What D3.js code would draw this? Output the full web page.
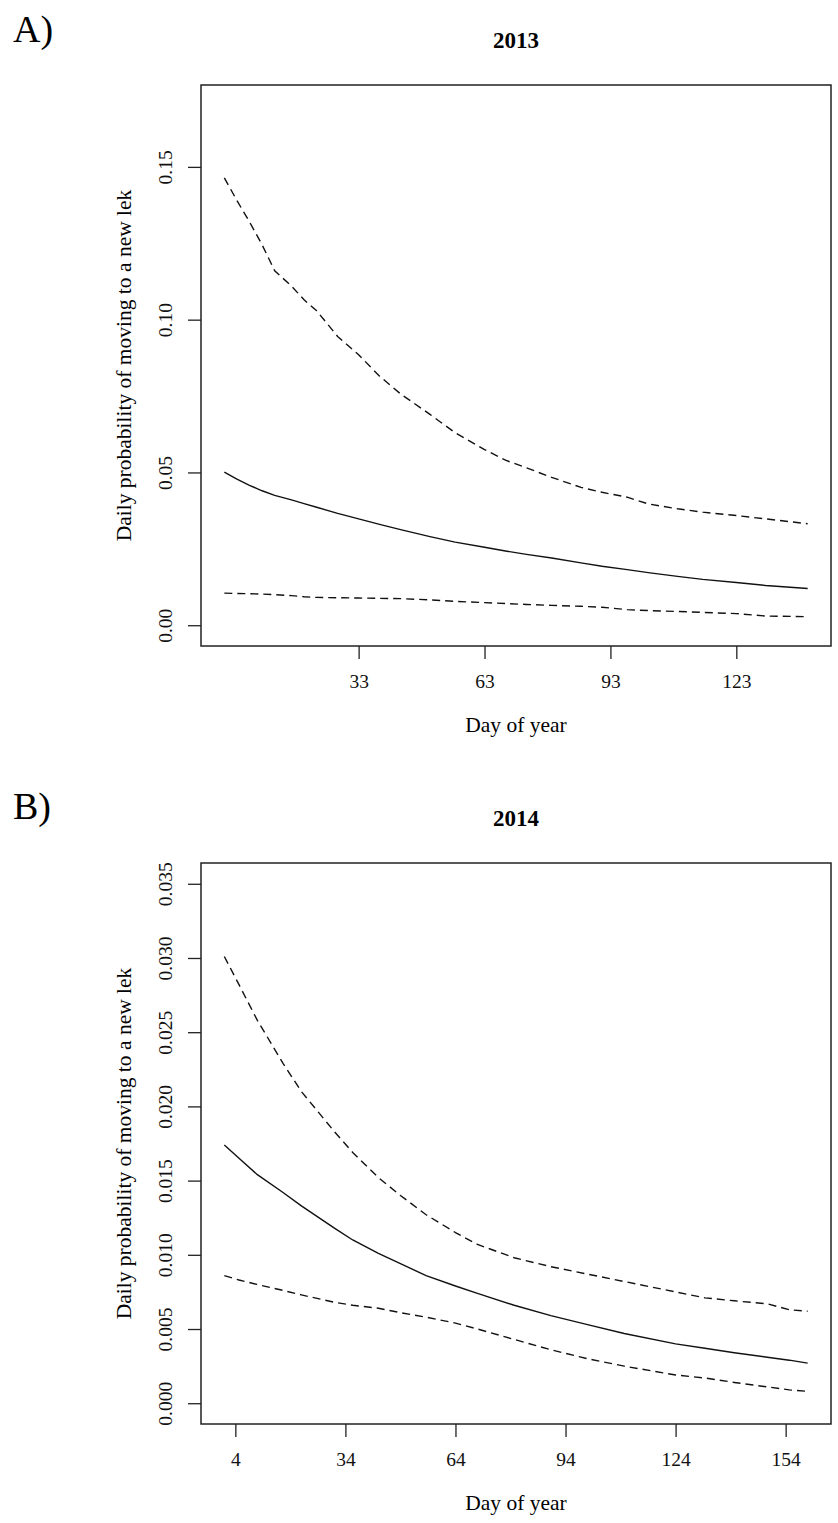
<!DOCTYPE html>
<html>
<head>
<meta charset="utf-8">
<script src="https://cdn.jsdelivr.net/npm/d3@7"></script>
<style>
  body { margin: 0; background: #fff; }
  svg { display: block; font-family: "Liberation Serif", "DejaVu Serif", serif; }
</style>
</head>
<body>
<svg id="chart" width="838" height="1523"></svg>
<script>
// Panel A (2013) - fitted probability and 95% limits
var daysA  = [1, 4, 7, 10, 13, 17, 20, 23, 28, 33, 38, 43, 50, 56, 63, 68, 73, 79, 86, 91, 97, 102, 109, 115, 123, 130, 140];
var upperA = [0.1464, 0.1390, 0.1320, 0.1245, 0.1160, 0.1110, 0.1065, 0.1029, 0.0945, 0.0885, 0.0815, 0.0757, 0.0690, 0.0630, 0.0575, 0.0540, 0.0515, 0.0484, 0.0451, 0.0435, 0.0419, 0.0397, 0.0381, 0.0370, 0.0359, 0.0348, 0.0332];
var fitA   = [0.0501, 0.0478, 0.0458, 0.0440, 0.0425, 0.0410, 0.0398, 0.0386, 0.0366, 0.0348, 0.0330, 0.0313, 0.0290, 0.0272, 0.0255, 0.0243, 0.0232, 0.0220, 0.0204, 0.0193, 0.0182, 0.0172, 0.0160, 0.0150, 0.0140, 0.0130, 0.0120];
var lowerA = [0.0105, 0.0104, 0.0103, 0.0102, 0.0100, 0.0097, 0.0093, 0.0091, 0.0090, 0.0089, 0.0088, 0.0087, 0.0083, 0.0078, 0.0074, 0.0071, 0.0068, 0.0065, 0.0062, 0.0059, 0.0051, 0.0048, 0.0045, 0.0042, 0.0038, 0.0030, 0.0028];

// Panel B (2014)
var daysB  = [1, 5, 10, 17, 22, 31, 36, 43, 49, 56, 64, 70, 80, 90, 100, 110, 124, 132, 140, 149, 155, 160];
var upperB = [0.0301, 0.0282, 0.0258, 0.0229, 0.0210, 0.0183, 0.0169, 0.0152, 0.0140, 0.0127, 0.0115, 0.0107, 0.0098, 0.0092, 0.0087, 0.0082, 0.0075, 0.0071, 0.0069, 0.0067, 0.0063, 0.0062];
var fitB   = [0.0174, 0.0165, 0.0154, 0.0142, 0.0133, 0.0118, 0.0110, 0.0101, 0.0094, 0.0086, 0.0079, 0.0074, 0.0066, 0.0059, 0.0053, 0.0047, 0.0040, 0.0037, 0.0034, 0.0031, 0.0029, 0.0027];
var lowerB = [0.0086, 0.0083, 0.0080, 0.0076, 0.0073, 0.0068, 0.0066, 0.0064, 0.0061, 0.0058, 0.0054, 0.0050, 0.0043, 0.0036, 0.0030, 0.0025, 0.0019, 0.0017, 0.0014, 0.0011, 0.0009, 0.0008];

var xTicksA = [33, 63, 93, 123];
var yTicksA = [0, 0.05, 0.10, 0.15];
var xTicksB = [4, 34, 64, 94, 124, 154];
var yTicksB = [0, 0.005, 0.010, 0.015, 0.020, 0.025, 0.030, 0.035];

var panels = [
    { letter: 'A)', title: '2013', days: daysA, upper: upperA, fit: fitA, lower: lowerA,
      xTicks: xTicksA, yTicks: yTicksA, ylim: [0, 0.17], fmt: '.2f', top: 85, letterY: 42 },
    { letter: 'B)', title: '2014', days: daysB, upper: upperB, fit: fitB, lower: lowerB,
      xTicks: xTicksB, yTicks: yTicksB, ylim: [0, 0.035], fmt: '.3f', top: 863, letterY: 819 }
];

var svg = d3.select('#chart');
var left = 201, right = 831, boxH = 561;

// R style axis range: data range widened by 4% each side
function rPad(lo, hi) {
    var d = hi - lo;
    return [lo - 0.04 * d, hi + 0.04 * d];
}

panels.forEach(function (p) {
    var top = p.top, bottom = top + boxH;
    var x = d3.scaleLinear().domain(rPad(d3.min(p.days), d3.max(p.days))).range([left, right]);
    var y = d3.scaleLinear().domain(rPad(p.ylim[0], p.ylim[1])).range([bottom, top]);

    var g = svg.append('g');

    g.append('text')
        .attr('x', 13).attr('y', p.letterY)
        .style('font-size', '38px')
        .text(p.letter);

    g.append('text')
        .attr('x', (left + right) / 2).attr('y', top - 37)
        .attr('text-anchor', 'middle')
        .style('font-size', '23px').style('font-weight', 'bold')
        .text(p.title);

    // x axis
    var xAxis = g.append('g')
        .attr('transform', 'translate(0,' + bottom + ')')
        .call(d3.axisBottom(x).tickValues(p.xTicks).tickSize(13).tickSizeOuter(0).tickPadding(15));
    xAxis.select('.domain').remove();
    xAxis.selectAll('text').style('font-size', '19.5px').style('font-family', 'Liberation Serif').attr('fill', '#111');
    xAxis.selectAll('line').attr('stroke', '#222').attr('stroke-width', 1.3);

    // y axis, labels parallel to the axis
    var yAxis = g.append('g')
        .attr('transform', 'translate(' + left + ',0)')
        .call(d3.axisLeft(y).tickValues(p.yTicks).tickSize(13).tickSizeOuter(0).tickFormat(d3.format(p.fmt)));
    yAxis.select('.domain').remove();
    yAxis.selectAll('line').attr('stroke', '#222').attr('stroke-width', 1.3);
    yAxis.selectAll('text')
        .style('font-size', '19.5px').style('font-family', 'Liberation Serif').attr('fill', '#111')
        .attr('x', 0).attr('dy', null)
        .attr('text-anchor', 'middle')
        .attr('transform', 'translate(-29,0) rotate(-90)');

    // frame
    g.append('rect')
        .attr('x', left).attr('y', top)
        .attr('width', right - left).attr('height', boxH)
        .attr('fill', 'none').attr('stroke', '#222').attr('stroke-width', 1.5);

    g.append('text')
        .attr('x', (left + right) / 2).attr('y', bottom + 86)
        .attr('text-anchor', 'middle')
        .style('font-size', '21.5px')
        .text('Day of year');

    g.append('text')
        .attr('transform', 'translate(131,' + ((top + bottom) / 2) + ') rotate(-90)')
        .attr('text-anchor', 'middle')
        .style('font-size', '21.5px')
        .text('Daily probability of moving to a new lek');

    var series = [
        { vals: p.upper, dash: '8,5' },
        { vals: p.fit, dash: null },
        { vals: p.lower, dash: '8,5' }
    ];

    series.forEach(function (s) {
        var line = d3.line()
            .x(function (d, i) { return x(p.days[i]); })
            .y(function (d) { return y(d); });
        g.append('path')
            .attr('d', line(s.vals))
            .attr('fill', 'none')
            .attr('stroke', '#111')
            .attr('stroke-width', 1.4)
            .attr('stroke-dasharray', s.dash);
    });
});
</script>
</body>
</html>
